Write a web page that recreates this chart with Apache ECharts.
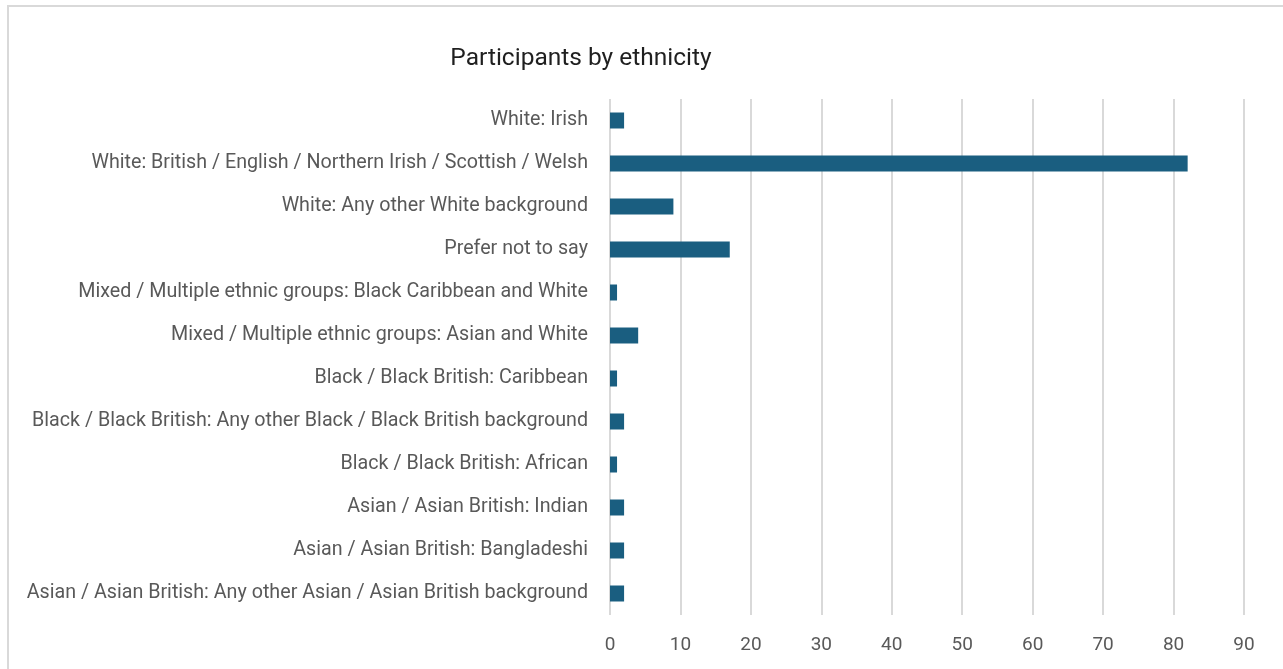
<!DOCTYPE html>
<html><head><meta charset="utf-8">
<script src="https://cdn.jsdelivr.net/npm/echarts@6/dist/echarts.min.js"></script>
<style>html,body{margin:0;padding:0;background:#fff;}#c{width:1283px;height:669px;}</style>
</head><body><div id="c"></div>
<script>
const categories = [
  "White: Irish",
  "White: British / English / Northern Irish / Scottish / Welsh",
  "White: Any other White background",
  "Prefer not to say",
  "Mixed / Multiple ethnic groups: Black Caribbean and White",
  "Mixed / Multiple ethnic groups: Asian and White",
  "Black / Black British: Caribbean",
  "Black / Black British: Any other Black / Black British background",
  "Black / Black British: African",
  "Asian / Asian British: Indian",
  "Asian / Asian British: Bangladeshi",
  "Asian / Asian British: Any other Asian / Asian British background"
];
const participants = [2, 82, 9, 17, 1, 4, 1, 2, 1, 2, 2, 2];
const xTicks = {min: 0, max: 90, interval: 10};
const title = "Participants by ethnicity";

const chart = echarts.init(document.getElementById('c'), null, {renderer: 'canvas'});
chart.setOption({
  animation: false,
  backgroundColor: '#ffffff',
  textStyle: {fontFamily: 'Roboto'},
  title: {
    text: title, left: 576, top: 41, textAlign: 'center',
    textStyle: {fontSize: 24.5, fontWeight: 'normal', color: '#1f1f1f', fontFamily: 'Roboto'}
  },
  graphic: [{
    type: 'rect', shape: {x: 8, y: 6, width: 1282, height: 680},
    style: {fill: 'none', stroke: '#d9d9d9', lineWidth: 2}, silent: true
  }],
  grid: {left: 610, right: 39, top: 99, bottom: 54, containLabel: false},
  xAxis: {
    type: 'value', min: xTicks.min, max: xTicks.max, interval: xTicks.interval,
    axisLine: {show: false}, axisTick: {show: false},
    axisLabel: {fontSize: 19, color: '#595959', margin: 21, fontFamily: 'Roboto'},
    splitLine: {show: true, lineStyle: {color: '#d9d9d9', width: 2}}
  },
  yAxis: {
    type: 'category', data: categories, inverse: true,
    axisLine: {show: false}, axisTick: {show: false},
    axisLabel: {fontSize: 19.7, color: '#595959', margin: 22, padding: [6, 0, 0, 0], fontFamily: 'Roboto'}
  },
  series: [{
    type: 'bar', data: participants, barWidth: 16,
    itemStyle: {color: '#1a5e80'}
  }]
});
</script></body></html>
